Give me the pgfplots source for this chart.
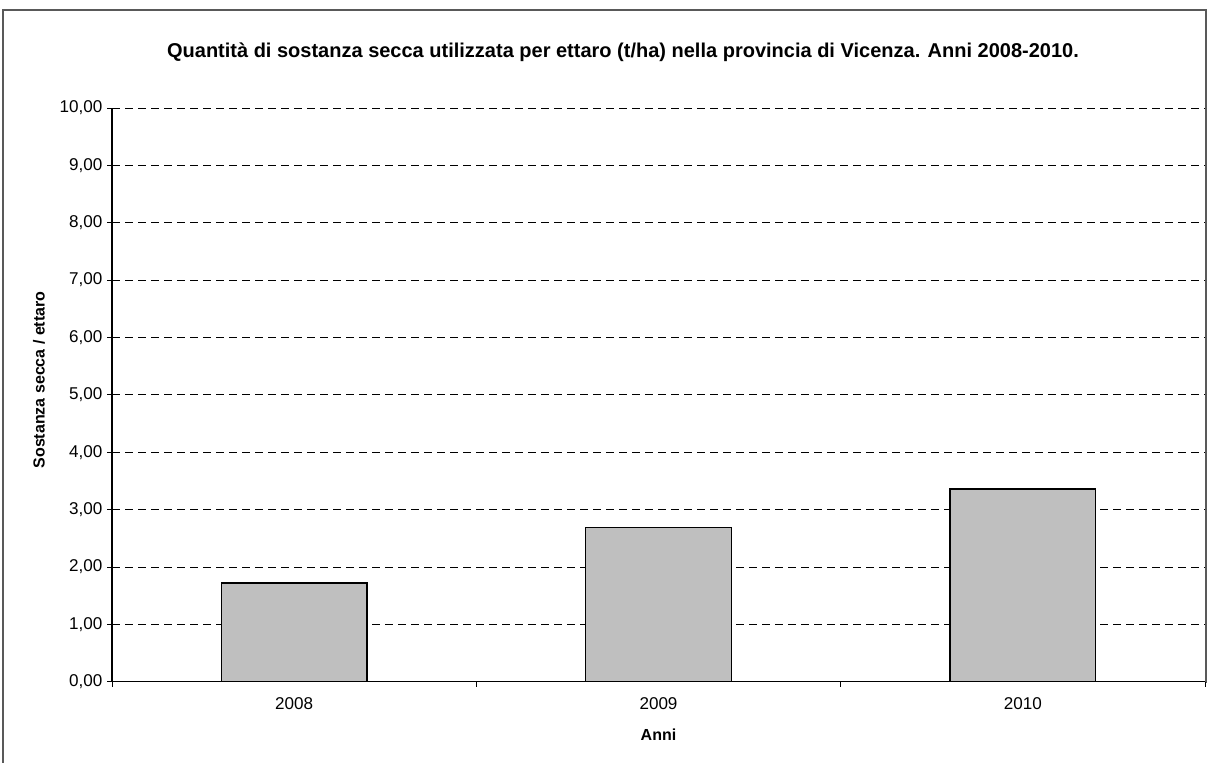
\documentclass[border=0pt]{standalone}
\usepackage{pgfplots}
\pgfplotsset{compat=1.18}
\usepackage{fontspec}
\setmainfont{Liberation Sans}
\begin{document}
\begin{tikzpicture}
\useasboundingbox (0pt,0pt) rectangle (909.75pt,572.25pt);
\draw[gray!70!black,line width=1.2pt] (2.25pt,-5pt) -- (2.25pt,564.75pt) -- (904.5pt,564.75pt) -- (904.5pt,60pt);
\node[font=\fontsize{15pt}{17pt}\selectfont\bfseries] at (467.25pt,533pt) {Quantità di sostanza secca utilizzata per ettaro (t/ha) nella provincia di Vicenza. Anni 2008-2010.};
\begin{axis}[
  at={(84pt,60.975pt)}, anchor=south west,
  scale only axis, width=819.75pt, height=430.3pt,
  xmin=-0.5, xmax=2.5, ymin=0, ymax=10,
  axis lines*=left, axis line style={-, black, line width=0.8pt},
  ybar, bar width=0.4,
  xtick={-0.5,0.5,1.5,2.5}, xticklabels={},
  extra x ticks={0,1,2}, extra x tick labels={2008,2009,2010},
  extra x tick style={major tick length=0pt, grid=none, xticklabel style={yshift=-8.5pt}},
  ytick={0,1,...,10},
  tick align=outside, tick pos=left, major tick length=3.75pt,
  tick style={black, line width=0.6pt},
  ymajorgrids, grid style={black, line width=0.6pt, dash pattern=on 6pt off 3.75pt},
  yticklabel style={/pgf/number format/.cd, fixed, fixed zerofill, precision=2, use comma, assume math mode=true},
  /pgf/number format/assume math mode=true,
  ticklabel style={font=\fontsize{12.8pt}{14.5pt}\selectfont},
  xlabel={\bfseries Anni}, ylabel={\bfseries Sostanza secca / ettaro},
  label style={font=\fontsize{12pt}{14pt}\selectfont},
  xlabel style={at={(axis description cs:0.5,-0.092)}, anchor=center},
  ylabel style={at={(axis description cs:-0.0668,0.526)}, anchor=center},
]
\addplot[fill=black!25, draw=black, line width=0.9pt] coordinates {(0,1.72) (1,2.69) (2,3.36)};
\end{axis}
\end{tikzpicture}
\end{document}
